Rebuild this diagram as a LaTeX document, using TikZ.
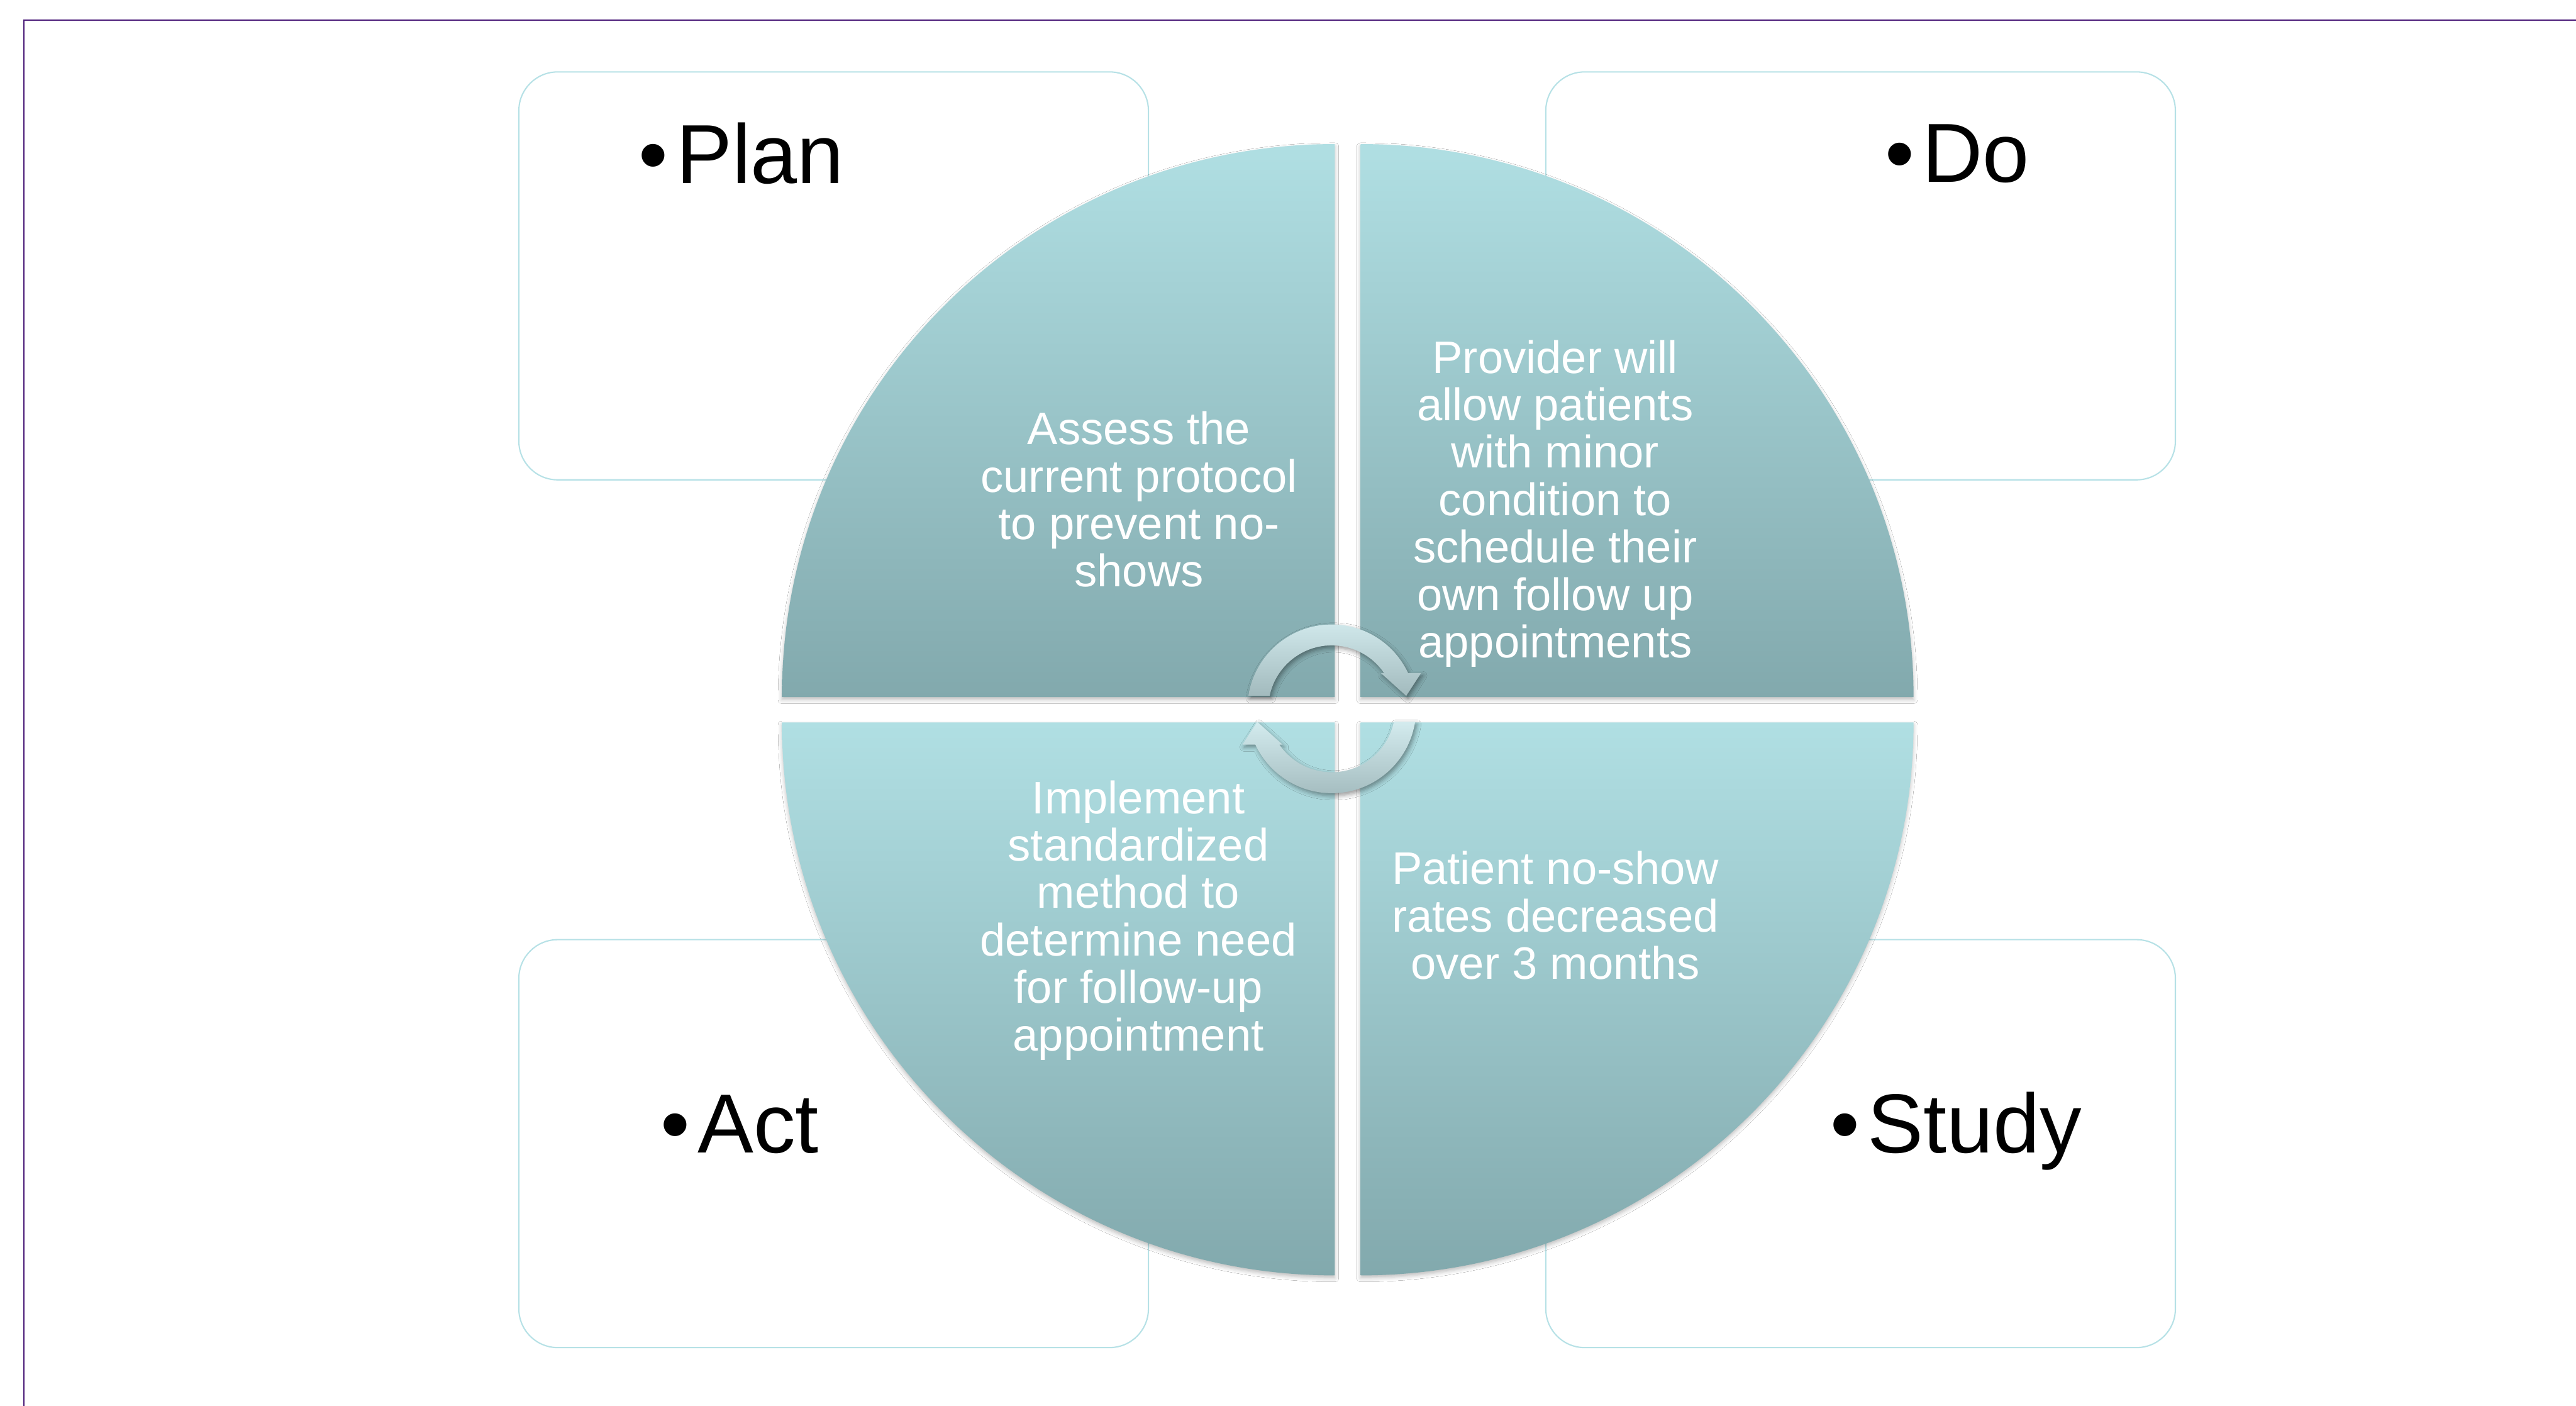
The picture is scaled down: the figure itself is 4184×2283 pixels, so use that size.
\documentclass[tikz,border=0pt]{standalone}
\usepackage{fontspec}
\setmainfont{Liberation Sans}
\usetikzlibrary{shadows.blur}

\definecolor{framepurple}{HTML}{4A1A78}
\definecolor{boxline}{HTML}{B6E1E6}
\definecolor{quadlight}{HTML}{B0DFE3}
\definecolor{quaddark}{HTML}{82A9AD}
\definecolor{arrowlight}{HTML}{D3EBEE}
\definecolor{arrowdark}{HTML}{A2BABD}

\newcommand{\bul}{•\kern0.13cm}

\begin{document}
\begin{tikzpicture}[x=0.01cm, y=0.01cm,
  phasebox/.style={draw=boxline, line width=0.6pt, fill=white,
    rounded corners=0.63cm, minimum width=10.22cm, minimum height=6.62cm,
    inner sep=0pt},
  phaselabel/.style={anchor=base west, inner sep=0pt, text=black,
    font=\fontsize{38.7}{46}\selectfont},
  quad/.style={top color=quadlight, bottom color=quaddark,
    blur shadow={shadow xshift=0pt, shadow yshift=-1.2pt,
      shadow blur radius=1.8pt, shadow opacity=25}},
  quadtext/.style={anchor=base, inner sep=0pt, align=center, text=white,
    font=\fontsize{21.05}{21.9}\selectfont},
  cyclearrow/.style={top color=arrowlight, bottom color=arrowdark,
    blur shadow={shadow xshift=0.8pt, shadow yshift=-1.2pt,
      shadow blur radius=2pt, shadow opacity=40}}
]
% canvas
\useasboundingbox (0,0) rectangle (4184,2283);
\fill[white] (0,0) rectangle (4184,2283);

% slide frame
\coordinate (frameA) at (39,0);
\coordinate (frameB) at (4184,2250);
\draw[framepurple, line width=0.7pt] (frameA) |- (frameB);

% corner boxes with phase names
\node[phasebox] (planbox)  at (1354,1835) {};
\node[phasebox] (dobox)    at (3022,1835) {};
\node[phasebox] (actbox)   at (1354,426)  {};
\node[phasebox] (studybox) at (3022,426)  {};

\node[phaselabel] (plan)  at (1037,1985) {\bul Plan};
\node[phaselabel] (do)    at (3061,1987) {\bul Do};
\node[phaselabel] (act)   at (1072,411)  {\bul Act};
\node[phaselabel] (study) at (2972,411)  {\bul Study};

% four quarter discs
\shade[quad] (2168,1151) -- (1270,1151) arc[start angle=180, end angle=90, radius=898] -- cycle;
\shade[quad] (2210,1151) -- (2210,2049) arc[start angle=90, end angle=0, radius=898] -- cycle;
\shade[quad] (2168,1110) -- (2168,212) arc[start angle=270, end angle=180, radius=898] -- cycle;
\shade[quad] (2210,1110) -- (3108,1110) arc[start angle=0, end angle=-90, radius=898] -- cycle;

% quadrant texts (anchored at the baseline of their last line)
\node[quadtext] (plantext) at (1850,1330)
  {Assess the\\current protocol\\to prevent no-\\shows};
\node[quadtext] (dotext) at (2526,1215)
  {Provider will\\allow patients\\with minor\\condition to\\schedule their\\own follow up\\appointments};
\node[quadtext] (acttext) at (1849,577)
  {Implement\\standardized\\method to\\determine need\\for follow-up\\appointment};
\node[quadtext] (studytext) at (2526,693)
  {Patient no-show\\rates decreased\\over 3 months};

% cycle arrows in the middle
\shade[cyclearrow] (2027.6,1153) arc[start angle=171.18, end angle=25.05, radius=137]
  -- (2308,1190) -- (2284,1153) -- (2243,1190) -- (2248.1,1190)
  arc[start angle=34.27, end angle=168.24, radius=103] -- cycle;
\shade[cyclearrow] (2298.4,1111) arc[start angle=-8.82, end angle=-154.95, radius=137]
  -- (2018,1074) -- (2042,1111) -- (2083,1074) -- (2077.9,1074)
  arc[start angle=-145.73, end angle=-11.76, radius=103] -- cycle;
\end{tikzpicture}
\end{document}
